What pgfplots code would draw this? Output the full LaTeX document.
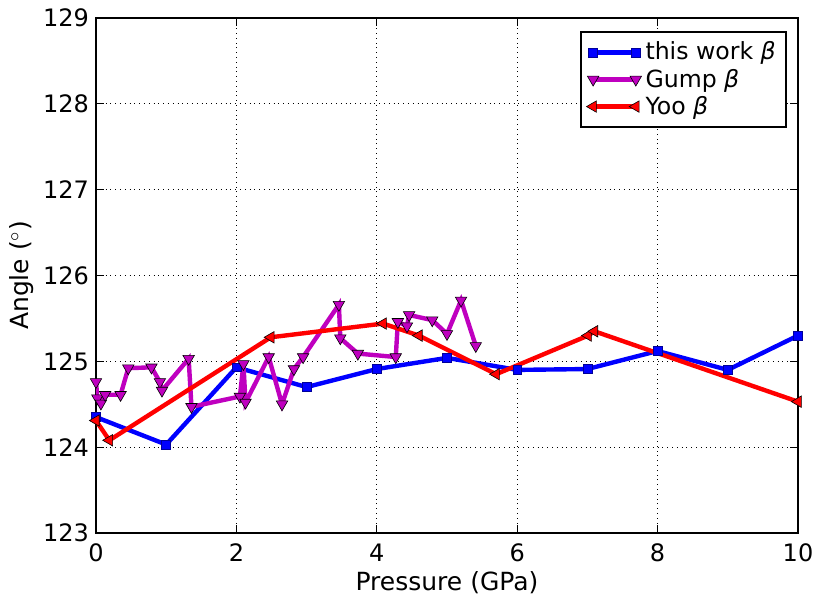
\documentclass[border=0pt]{standalone}
\usepackage{pgfplots}
\pgfplotsset{compat=1.18}
\usepackage{fontspec}
\setmainfont{DejaVu Sans}
\begin{document}
\begin{tikzpicture}
\begin{axis}[
  name=ax,
  scale only axis,
  width=351pt, height=257.5pt,
  xmin=0, xmax=10, ymin=123, ymax=129,
  xtick={0,2,4,6,8,10}, ytick={123,124,125,126,127,128,129},
  /pgf/number format/assume math mode=true,
  tick label style={font=\fontsize{12}{14}\selectfont},
  label style={font=\fontsize{12.5}{15}\selectfont},
  xlabel={Pressure (GPa)},
  ylabel={Angle ($^\circ$)},
  xlabel style={yshift=2pt},
  ylabel style={yshift=-2pt},
  xticklabel style={yshift=-2pt},
  grid=major,
  major grid style={black, dotted, line width=0.5pt},
  axis line style={line width=1pt, black},
  tick align=inside,
  tick style={black, line width=0.5pt},
  major tick length=4pt,
  legend style={at={(0.984,0.975)}, anchor=north east, draw=black, line width=1pt,
    font=\fontsize{11.8}{14}\selectfont, row sep=-1pt, inner sep=3pt,
    cells={anchor=west}},
  legend cell align=left,
  legend image code/.code={\draw plot coordinates {(0cm,0cm) (0.75cm,0cm)};},
]
\addplot[blue, line width=2.2pt, mark=square*, mark size=2.2pt,
  mark options={fill=blue, draw=blue!60!black, line width=0.3pt}]
  coordinates {(0,124.35) (1,124.03) (2,124.93) (3,124.70) (4,124.91) (5,125.04)
    (6,124.90) (7,124.91) (8,125.12) (9,124.90) (10,125.30)};
\addlegendentry{this work {\itshape β}}
\addplot[color={rgb,1:red,0.75;green,0;blue,0.75}, line width=2.2pt, mark=triangle*, mark size=3.3pt,
  mark options={rotate=180, fill={rgb,1:red,0.75;green,0;blue,0.75}, draw=black, line width=0.3pt}]
  coordinates {(0,124.76) (0.02,124.57) (0.07,124.51) (0.13,124.61) (0.35,124.61)
    (0.46,124.92) (0.79,124.93) (0.91,124.76) (0.94,124.66) (1.32,125.03)
    (1.36,124.47) (2.05,124.59) (2.10,124.97) (2.13,124.52) (2.46,125.05)
    (2.65,124.50) (2.82,124.91) (2.95,125.05) (3.46,125.66) (3.48,125.27)
    (3.73,125.09) (4.27,125.05) (4.30,125.46) (4.43,125.41) (4.46,125.54)
    (4.79,125.48) (5.00,125.32) (5.20,125.71) (5.41,125.18)};
\addlegendentry{Gump {\itshape β}}
\addplot[red, line width=2.2pt, mark=triangle*, mark size=3.3pt,
  mark options={rotate=90, fill=red, draw=black, line width=0.3pt}]
  coordinates {(0,124.31) (0.19,124.08) (2.49,125.28) (4.09,125.44) (4.60,125.30)
    (5.70,124.85) (7.01,125.30) (7.10,125.35) (10,124.53)};
\addlegendentry{Yoo {\itshape β}}
\end{axis}
\pgfresetboundingbox
\path ([xshift=-48pt,yshift=-33.5pt]ax.south west) rectangle ([xshift=10.5pt,yshift=9pt]ax.north east);
\end{tikzpicture}
\end{document}
